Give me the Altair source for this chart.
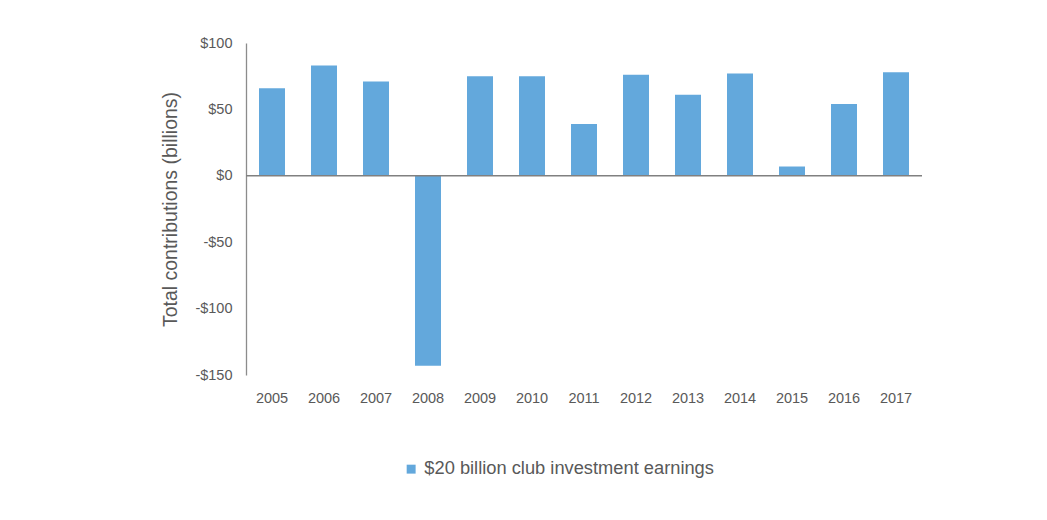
import altair as alt
import pandas as pd

years = ["2005", "2006", "2007", "2008", "2009", "2010", "2011",
         "2012", "2013", "2014", "2015", "2016", "2017"]
earnings = [66, 83, 71, -143, 75, 75, 39, 76, 61, 77, 7, 54, 78]
series_name = "$20 billion club investment earnings"
y_ticks = [-150, -100, -50, 0, 50, 100]

df = pd.DataFrame({"year": years, "value": earnings, "series": [series_name] * len(years)})

FONT = "Liberation Sans, Arial, sans-serif"
TEXT = "#595959"

bars = alt.Chart(df).mark_bar(color="#63a8dc").encode(
    x=alt.X("year:N", sort=years,
            scale=alt.Scale(paddingInner=0.5, paddingOuter=0.25),
            axis=alt.Axis(title=None, domain=False, ticks=False, labelAngle=0,
                          labelFont=FONT, labelFontSize=14.5, labelColor=TEXT,
                          labelPadding=16)),
    y=alt.Y("value:Q",
            scale=alt.Scale(domain=[-150, 100], nice=False, zero=True),
            axis=alt.Axis(title="Total contributions (billions)", values=y_ticks,
                          grid=False, ticks=False, domain=True, domainColor="#8c8c8c",
                          domainWidth=1.3,
                          labelExpr="datum.value < 0 ? '-$' + abs(datum.value) : '$' + datum.value",
                          labelFont=FONT, labelFontSize=14.5, labelColor=TEXT, labelPadding=14,
                          titleFont=FONT, titleFontSize=19.5, titleColor=TEXT,
                          titleFontWeight="normal", titleX=-66, titleY=166,
                          titleAngle=270, titleBaseline="bottom", titleAlign="center")),
    fill=alt.Fill("series:N", scale=alt.Scale(range=["#63a8dc"]),
                  legend=alt.Legend(title=None, orient="none", legendX=156, legendY=417,
                                    symbolType="square", symbolSize=80, symbolStrokeWidth=0,
                                    labelFont=FONT, labelFontSize=18.3, labelColor=TEXT,
                                    labelLimit=500, labelOffset=4)),
)

zero = alt.Chart(pd.DataFrame({"y": [0]})).mark_rule(color="#808080", strokeWidth=1.5).encode(
    y="y:Q"
)

chart = alt.layer(bars, zero).properties(
    width=676, height=332,
    padding={"left": 238, "top": 35, "right": 117, "bottom": 137},
    autosize=alt.AutoSizeParams(type="none"),
    view=alt.ViewBackground(strokeOpacity=0, strokeWidth=0),
).configure_view(strokeOpacity=0, strokeWidth=0).configure(background="white")

chart.save("out.html", embed_options={"renderer": "svg", "actions": False})
